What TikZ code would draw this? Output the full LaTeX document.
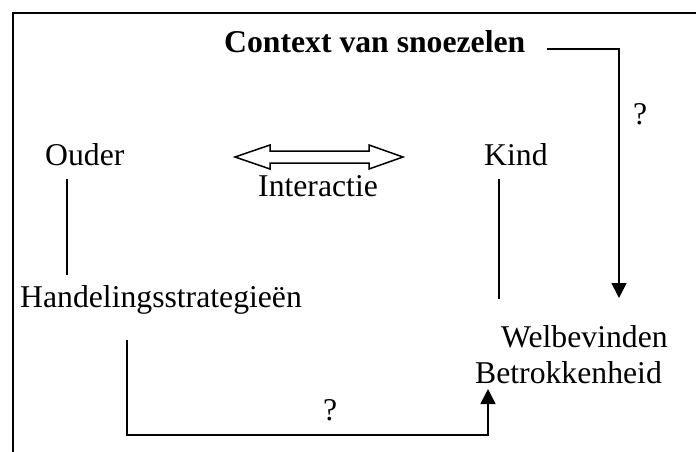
\documentclass[tikz,border=0pt]{standalone}
\usepackage{fontspec}
\setmainfont{Liberation Serif}
\usetikzlibrary{arrows.meta}
\begin{document}
\begin{tikzpicture}[x=1pt,y=-1pt,
  lbl/.style={inner sep=0pt,anchor=base west,font=\fontsize{31.7}{36}\selectfont},
  rule/.style={line width=1.6pt},
  conn/.style={line width=1.6pt,-{Triangle[width=15pt,length=15pt]}},
  frameline/.style={line width=2pt}]
\useasboundingbox (0,0) rectangle (696,452);

% outer frame (top and left sides)
\coordinate (fbl) at (13,452);
\coordinate (ftl) at (13,13);
\coordinate (ftr) at (697,13);
\draw[frameline] (fbl) -- (ftl) -- (ftr);

% labels
\node[lbl,font=\fontsize{31.7}{36}\selectfont\bfseries] (context) at (224,53) {Context van snoezelen};
\node[lbl] (ouder) at (45,165) {Ouder};
\node[lbl] (kind) at (484,165) {Kind};
\node[lbl] (interactie) at (258,196) {Interactie};
\node[lbl] (handel) at (20,307) {Handelingsstrategieën};
\node[lbl] (welbev) at (501,347) {Welbevinden};
\node[lbl] (betrok) at (475,383) {Betrokkenheid};
\node[lbl] (q1) at (633,124) {?};
\node[lbl] (q2) at (323,420) {?};

% double arrow for the interaction
\draw[line width=1.5pt,line join=miter]
  (235,157) -- (270,145) -- (270,151) -- (369,151) -- (369,145) -- (403,157)
  -- (369,169) -- (369,163) -- (270,163) -- (270,169) -- cycle;

% ouder -- handelingsstrategieen
\coordinate (o1) at (66.7,179);
\coordinate (o2) at (66.7,275);
\draw[rule] (o1) -- (o2);

% kind -- welbevinden
\coordinate (k1) at (499,179);
\coordinate (k2) at (499,299);
\draw[rule] (k1) -- (k2);

% context -> welbevinden
\coordinate (c1) at (547,49);
\coordinate (c2) at (619,298);
\draw[conn] (c1) -| (c2);

% handelingsstrategieen -> betrokkenheid
\coordinate (h1) at (127,340);
\coordinate (h2) at (127,435);
\coordinate (h3) at (488,389);
\draw[conn] (h1) -- (h2) -| (h3);
\end{tikzpicture}
\end{document}
